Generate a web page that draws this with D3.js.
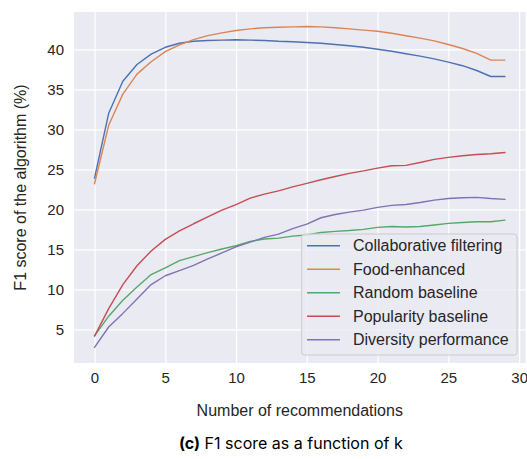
<!DOCTYPE html>
<html>
<head>
<meta charset="utf-8">
<script src="https://cdn.jsdelivr.net/npm/d3@7"></script>
<style>
  html, body { margin: 0; padding: 0; background: #ffffff; }
  svg { display: block; }
</style>
</head>
<body>
<svg id="chart" width="527" height="459"></svg>
<script>
const ks = d3.range(0, 30);
const seriesNames = ["Collaborative filtering", "Food-enhanced", "Random baseline", "Popularity baseline", "Diversity performance"];
const seriesColors = ["#4c72b0", "#dd8452", "#55a868", "#c44e52", "#8172b3"];
const collaborative = [23.9, 32.0, 36.0, 38.1, 39.4, 40.25, 40.75, 41.0, 41.1, 41.15, 41.2, 41.15, 41.1, 41.0, 40.95, 40.85, 40.75, 40.6, 40.45, 40.25, 40.0, 39.75, 39.45, 39.15, 38.8, 38.4, 37.95, 37.35, 36.6, 36.6];
const foodEnhanced = [23.2, 30.5, 34.4, 36.9, 38.45, 39.7, 40.55, 41.2, 41.7, 42.05, 42.35, 42.55, 42.7, 42.75, 42.8, 42.85, 42.8, 42.7, 42.55, 42.4, 42.25, 42.0, 41.7, 41.4, 41.05, 40.6, 40.1, 39.5, 38.65, 38.65];
const randomBaseline = [4.2, 6.65, 8.65, 10.3, 11.85, 12.7, 13.6, 14.1, 14.6, 15.05, 15.45, 16.0, 16.3, 16.4, 16.65, 16.8, 17.1, 17.25, 17.35, 17.5, 17.75, 17.85, 17.8, 17.85, 18.05, 18.25, 18.35, 18.45, 18.45, 18.65];
const popularityBaseline = [4.15, 7.6, 10.6, 12.95, 14.8, 16.25, 17.3, 18.2, 19.05, 19.9, 20.6, 21.4, 21.9, 22.3, 22.8, 23.25, 23.7, 24.1, 24.5, 24.8, 25.15, 25.45, 25.5, 25.85, 26.25, 26.5, 26.7, 26.85, 26.95, 27.1];
const diversity = [2.75, 5.3, 7.0, 8.8, 10.6, 11.7, 12.35, 13.0, 13.8, 14.55, 15.3, 15.9, 16.5, 16.9, 17.6, 18.15, 18.95, 19.35, 19.65, 19.9, 20.25, 20.5, 20.6, 20.85, 21.15, 21.35, 21.45, 21.5, 21.35, 21.25];
const xTicks = [0, 5, 10, 15, 20, 25, 30];
const yTicks = [5, 10, 15, 20, 25, 30, 35, 40];
const xLabel = "Number of recommendations";
const yLabel = "F1 score of the algorithm (%)";
const captionBold = "(c)";
const captionRest = " F1 score as a function of k";

const allSeries = [collaborative, foodEnhanced, randomBaseline, popularityBaseline, diversity];

const svg = d3.select("#chart");
const pL = 74, pR = 525.5, pT = 12, pB = 363;
const x = d3.scaleLinear().domain([-1.45, 30.45]).range([pL, pR]);
const y = d3.scaleLinear().domain([0.8, 44.66]).range([pB, pT]);

svg.append("rect").attr("x", pL).attr("y", pT)
  .attr("width", pR - pL).attr("height", pB - pT).attr("fill", "#eaeaf2");

// grid
const xAxis = d3.axisBottom(x).tickValues(xTicks).tickSize(-(pB - pT)).tickPadding(9).tickFormat(d3.format("d"));
const yAxis = d3.axisLeft(y).tickValues(yTicks).tickSize(-(pR - pL)).tickPadding(10).tickFormat(d3.format("d"));
const gx = svg.append("g").attr("transform", `translate(0,${pB})`).call(xAxis);
const gy = svg.append("g").attr("transform", `translate(${pL},0)`).call(yAxis);
[gx, gy].forEach(g => {
  g.select(".domain").remove();
  g.selectAll(".tick line").attr("stroke", "#ffffff").attr("stroke-width", 1.2);
  g.selectAll(".tick text").attr("fill", "#262626")
    .style("font-family", "'Liberation Sans', Arial, sans-serif").style("font-size", "15px");
});
gx.selectAll(".tick text").attr("dy", "0.71em");

const line = d3.line().x((d, i) => x(ks[i])).y(d => y(d));
allSeries.forEach((s, i) => {
  svg.append("path").datum(s).attr("d", line)
    .attr("fill", "none").attr("stroke", seriesColors[i])
    .attr("stroke-width", 1.4).attr("stroke-linejoin", "round").attr("stroke-linecap", "round");
});

// axis labels
svg.append("text").attr("x", (pL + pR) / 2).attr("y", 416)
  .attr("text-anchor", "middle").attr("fill", "#262626")
  .style("font-family", "'Liberation Sans', Arial, sans-serif").style("font-size", "16px")
  .text(xLabel);
svg.append("text").attr("transform", `translate(26,${(pT + pB) / 2}) rotate(-90)`)
  .attr("text-anchor", "middle").attr("fill", "#262626")
  .style("font-family", "'Liberation Sans', Arial, sans-serif").style("font-size", "16px")
  .text(yLabel);

// legend
const lg = svg.append("g");
lg.append("rect").attr("x", 301.7).attr("y", 234).attr("width", 215.3).attr("height", 121)
  .attr("rx", 3).attr("fill", "#eaeaf2").attr("fill-opacity", 0.8)
  .attr("stroke", "#cccccc").attr("stroke-width", 1);
seriesNames.forEach((name, i) => {
  const yy = 245.7 + i * 23.5;
  lg.append("line").attr("x1", 307).attr("x2", 340).attr("y1", yy).attr("y2", yy)
    .attr("stroke", seriesColors[i]).attr("stroke-width", 1.4);
  lg.append("text").attr("x", 353).attr("y", yy).attr("dy", "0.35em")
    .attr("fill", "#262626")
    .style("font-family", "'Liberation Sans', Arial, sans-serif").style("font-size", "16px")
    .text(name);
});

// caption
const cap = svg.append("text").attr("x", 290.8).attr("y", 449)
  .attr("text-anchor", "middle").attr("fill", "#000000")
  .style("font-family", "Inter, 'Liberation Sans', sans-serif").style("font-size", "16px");
cap.append("tspan").style("font-weight", "700").text(captionBold);
cap.append("tspan").text(captionRest);
</script>
</body>
</html>
